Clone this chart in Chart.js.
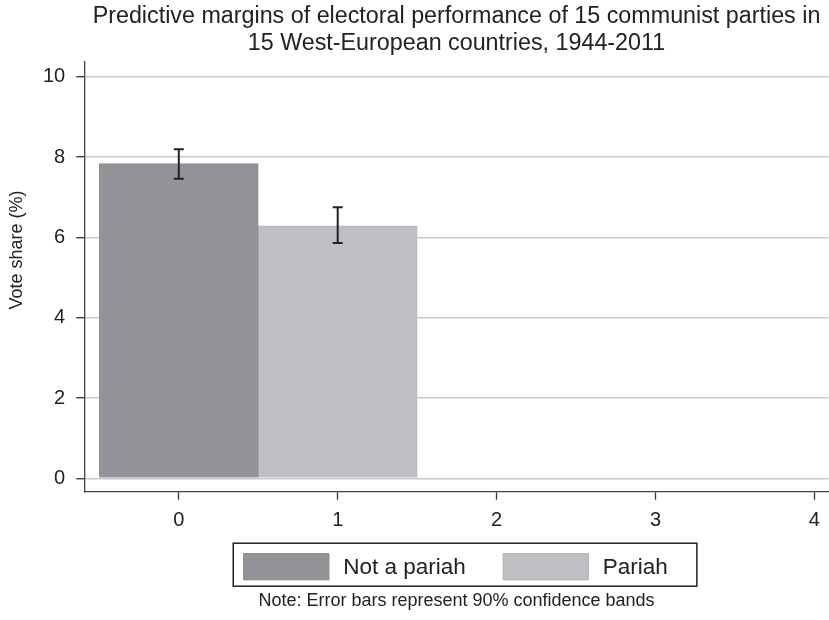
<!DOCTYPE html>
<html>

<head>
    <script src="https://cdn.jsdelivr.net/npm/chart.js"></script>
    <style>
        html,
        body {
            margin: 0px;
            background: #ffffff;
        }

        .container {
            width: 829px;
            height: 620px;
        }
    </style>
</head>

<body>
    <div class="container">
        <canvas id="myChart"></canvas>
    </div>

    <script>

        const categories = ['Not a pariah', 'Pariah'];
        const xPositions = [0, 1];
        const margins = [7.84, 6.29];
        const ciLow = [7.46, 5.86];
        const ciHigh = [8.20, 6.75];
        const xTicks = [0, 1, 2, 3, 4];
        const yTicks = [0, 2, 4, 6, 8, 10];
        const barColors = ['#939497', '#bebfc2'];
        const barBorders = ['#8b8c8f', '#b5b6b9'];

        const fontFamily = "'Liberation Sans', Arial, sans-serif";
        const textColor = '#222222';

        // error bars, y title and the framed legend (Stata style)
        const extras = {
            id: 'extras',
            afterDatasetsDraw(chart) {
                const { ctx, scales } = chart;
                const x = scales.x, y = scales.y;
                ctx.save();
                ctx.strokeStyle = '#222222';
                ctx.lineWidth = 2;
                for (let i = 0; i < margins.length; i++) {
                    const px = x.getPixelForValue(xPositions[i]);
                    const lo = y.getPixelForValue(ciLow[i]);
                    const hi = y.getPixelForValue(ciHigh[i]);
                    ctx.beginPath();
                    ctx.moveTo(px, lo);
                    ctx.lineTo(px, hi);
                    ctx.moveTo(px - 5, lo);
                    ctx.lineTo(px + 5, lo);
                    ctx.moveTo(px - 5, hi);
                    ctx.lineTo(px + 5, hi);
                    ctx.stroke();
                }
                ctx.restore();
            },
            afterDraw(chart) {
                const { ctx, chartArea } = chart;
                ctx.save();
                // y axis title
                ctx.fillStyle = textColor;
                ctx.font = '18px ' + fontFamily;
                ctx.textAlign = 'center';
                ctx.textBaseline = 'middle';
                ctx.translate(17, 250);
                ctx.rotate(-Math.PI / 2);
                ctx.fillText('Vote share (%)', 0, 0);
                ctx.restore();

                // legend
                const boxW = 86, boxH = 27;
                const frameLeft = chartArea.left + 149;
                const frameTop = chart.scales.x.bottom + 1.5;
                ctx.save();
                ctx.font = '22.5px ' + fontFamily;
                ctx.textBaseline = 'middle';
                ctx.textAlign = 'left';
                let cx = frameLeft + 10;
                const midY = frameTop + 10 + boxH / 2;
                chart.data.datasets.forEach((ds, i) => {
                    ctx.fillStyle = ds.backgroundColor;
                    ctx.strokeStyle = ds.borderColor;
                    ctx.lineWidth = 1;
                    ctx.fillRect(cx, frameTop + 10, boxW, boxH);
                    ctx.strokeRect(cx + 0.5, frameTop + 10.5, boxW - 1, boxH - 1);
                    cx += boxW + 14;
                    ctx.fillStyle = textColor;
                    ctx.fillText(ds.label, cx, midY + 1);
                    cx += ctx.measureText(ds.label).width;
                    if (i < chart.data.datasets.length - 1) cx += 37;
                });
                const frameRight = cx + 29;
                ctx.strokeStyle = '#222222';
                ctx.lineWidth = 1.5;
                ctx.strokeRect(frameLeft, frameTop, frameRight - frameLeft, 43);
                ctx.restore();
            }
        };

        const context = document.getElementById('myChart').getContext('2d');
        const chart = new Chart(context, {
            type: 'bar',
            data: {
                datasets: categories.map((name, i) => ({
                    label: name,
                    data: [{ x: xPositions[i], y: margins[i] }],
                    backgroundColor: barColors[i],
                    borderColor: barBorders[i],
                    borderWidth: 1,
                    grouped: false,
                    barPercentage: 1,
                    categoryPercentage: 1
                }))
            },
            options: {
                responsive: true,
                maintainAspectRatio: false,
                animation: false,
                layout: {
                    padding: { left: 32, right: 0, top: 0, bottom: 0 }
                },
                scales: {
                    x: {
                        type: 'linear',
                        min: -0.595,
                        max: 4.09,
                        offset: false,
                        afterBuildTicks: (axis) => {
                            axis.ticks = xTicks.map(v => ({ value: v }));
                        },
                        grid: {
                            offset: false,
                            drawOnChartArea: false,
                            tickLength: 8,
                            tickColor: '#333333',
                            tickWidth: 1.3
                        },
                        border: { color: '#444444', width: 1.3 },
                        ticks: {
                            color: textColor,
                            padding: 9,
                            maxRotation: 0,
                            font: { family: fontFamily, size: 20 }
                        }
                    },
                    y: {
                        min: -0.333,
                        max: 10.37,
                        afterBuildTicks: (axis) => {
                            axis.ticks = yTicks.map(v => ({ value: v }));
                        },
                        grid: {
                            color: '#c9c9cd',
                            lineWidth: 1.5,
                            tickLength: 8,
                            tickColor: '#333333',
                            tickWidth: 1.3
                        },
                        border: { color: '#444444', width: 1.3 },
                        ticks: {
                            color: textColor,
                            padding: 11,
                            font: { family: fontFamily, size: 20 }
                        }
                    }
                },
                plugins: {
                    title: {
                        display: true,
                        fullSize: false,
                        text: ['Predictive margins of electoral performance of 15 communist parties in',
                            '15 West-European countries, 1944-2011'],
                        color: textColor,
                        font: { family: fontFamily, size: 23.3, weight: 'normal', lineHeight: 1.16 },
                        padding: { top: 3, bottom: 5 }
                    },
                    subtitle: {
                        display: true,
                        position: 'bottom',
                        fullSize: false,
                        text: 'Note: Error bars represent 90% confidence bands',
                        color: textColor,
                        font: { family: fontFamily, size: 18, weight: 'normal', lineHeight: 1.2 },
                        padding: { top: 48.5, bottom: 8.2 }
                    },
                    legend: { display: false },
                    tooltip: { enabled: false }
                }
            },
            plugins: [extras]
        });

    </script>
</body>

</html>
